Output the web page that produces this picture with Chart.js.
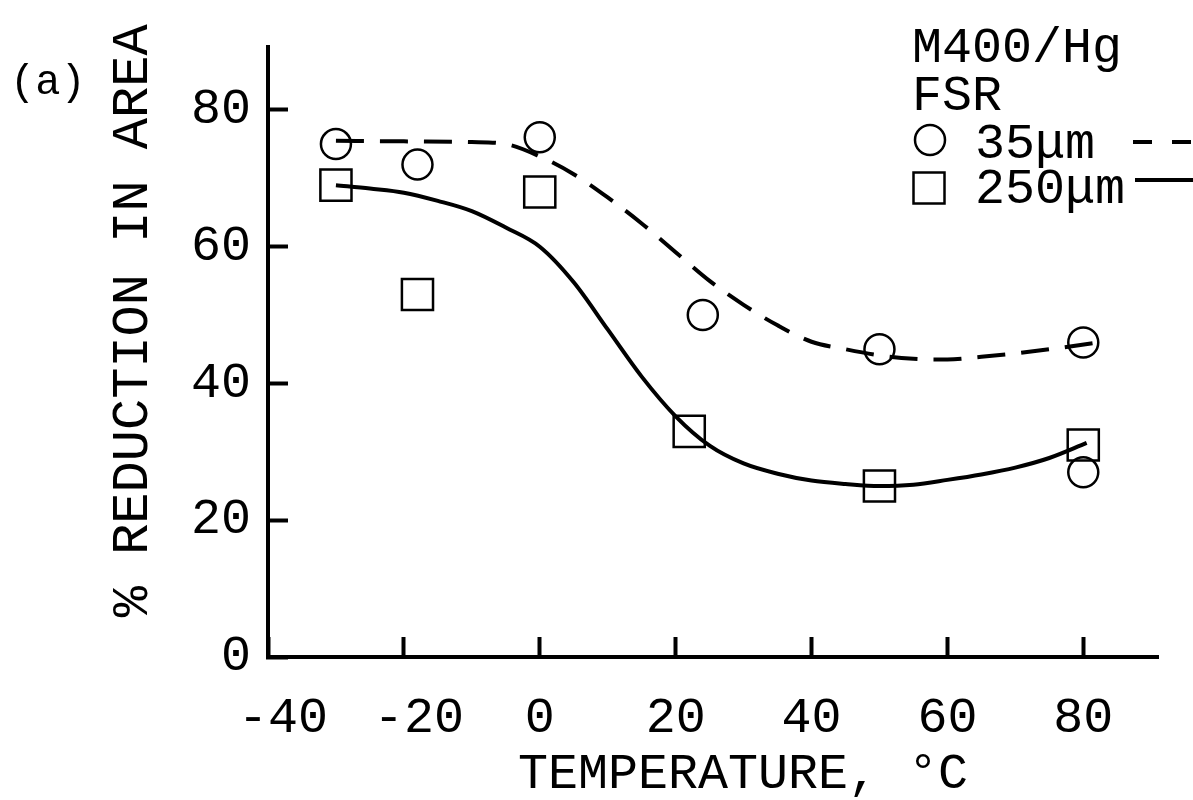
<!DOCTYPE html>
<html>
<head>
<meta charset="utf-8">
<script src="https://cdn.jsdelivr.net/npm/chart.js@4/dist/chart.umd.min.js"></script>
<style>
  html, body { margin: 0; padding: 0; background: #fff; }
  #myChart { display: block; }
</style>
</head>
<body>
<canvas id="myChart" width="1193" height="800"></canvas>
<script>
// measured points, % reduction in area vs temperature
const tempCircle = [-30, -18, 0, 24, 50, 80, 80];
const raCircle   = [75, 72, 76, 50, 45, 46, 27];
const tempSquare = [-30, -18, 0, 22, 50, 80];
const raSquare   = [69, 53, 68, 33, 25, 31];

// hand drawn fit curves
const fitTempDash = [-30, -20, -10, -5, 0, 5, 10, 15, 20, 25, 30, 35, 40, 45, 50, 55, 60, 65, 70, 75, 81.5];
const fitDash     = [75.5, 75.4, 75.3, 75.0, 73.2, 70.6, 67.2, 63.4, 59.2, 55.0, 51.5, 48.5, 46.1, 45.0, 44.1, 43.6, 43.5, 43.9, 44.4, 45.0, 45.9];
const fitTempSolid = [-30, -25, -20, -15, -10, -5, 0, 5, 10, 15, 20, 25, 30, 35, 40, 45, 50, 55, 60, 65, 70, 75, 80.5];
const fitSolid     = [69.0, 68.5, 67.9, 66.7, 65.2, 62.8, 60.0, 54.8, 47.9, 41.0, 35.2, 30.9, 28.3, 26.8, 25.8, 25.3, 25.0, 25.2, 25.9, 26.7, 27.7, 29.1, 31.3];

const xTicks = [-40, -20, 0, 20, 40, 60, 80];
const yTicks = [0, 20, 40, 60, 80];

const FONT = '"Liberation Mono", "DejaVu Sans Mono", monospace';

function pts(xs, ys) {
    return xs.map((x, i) => ({ x: x, y: ys[i] }));
}

// legend block and panel label, drawn as text on the canvas
const annotations = {
    id: 'annotations',
    afterDraw(chart) {
        const ctx = chart.ctx;
        ctx.save();
        ctx.fillStyle = '#000';
        ctx.strokeStyle = '#000';
        ctx.textBaseline = 'alphabetic';
        ctx.textAlign = 'left';

        ctx.font = '42px ' + FONT;
        ctx.fillText('(a)', 10, 94);

        ctx.font = '50px ' + FONT;
        ctx.fillText('M400/Hg', 912, 62);
        ctx.fillText('FSR', 912, 110);
        ctx.fillText('35\u03bcm', 975, 158);
        ctx.fillText('250\u03bcm', 975, 203);

        ctx.lineWidth = 2.5;
        ctx.beginPath();
        ctx.arc(930, 140, 15, 0, Math.PI * 2);
        ctx.stroke();
        ctx.strokeRect(913.5, 172.5, 31, 31);

        ctx.lineWidth = 4;
        ctx.setLineDash([19, 20]);
        ctx.beginPath();
        ctx.moveTo(1133, 142);
        ctx.lineTo(1193, 142);
        ctx.stroke();
        ctx.setLineDash([]);
        ctx.beginPath();
        ctx.moveTo(1135, 180);
        ctx.lineTo(1193, 180);
        ctx.stroke();
        ctx.restore();
    }
};

const ctx = document.getElementById('myChart').getContext('2d');
new Chart(ctx, {
    type: 'scatter',
    data: {
        datasets: [{
            label: '35um fit',
            data: pts(fitTempDash, fitDash),
            showLine: true,
            borderColor: '#000',
            borderWidth: 4,
            borderDash: [28, 16],
            pointRadius: 0,
            cubicInterpolationMode: 'monotone'
        }, {
            label: '250um fit',
            data: pts(fitTempSolid, fitSolid),
            showLine: true,
            borderColor: '#000',
            borderWidth: 4,
            pointRadius: 0,
            cubicInterpolationMode: 'monotone'
        }, {
            label: '35um',
            data: pts(tempCircle, raCircle),
            pointStyle: 'circle',
            pointRadius: 15,
            pointHoverRadius: 15,
            pointBorderWidth: 2.5,
            pointBorderColor: '#000',
            pointBackgroundColor: 'rgba(0,0,0,0)'
        }, {
            label: '250um',
            data: pts(tempSquare, raSquare),
            pointStyle: 'rect',
            pointRadius: 22,
            pointHoverRadius: 22,
            pointBorderWidth: 2.5,
            pointBorderColor: '#000',
            pointBackgroundColor: 'rgba(0,0,0,0)'
        }]
    },
    options: {
        responsive: false,
        animation: false,
        devicePixelRatio: 1,
        layout: { padding: { top: 47, right: 35, bottom: 0, left: 0 } },
        plugins: {
            legend: { display: false },
            tooltip: { enabled: false }
        },
        scales: {
            x: {
                type: 'linear',
                position: 'bottom',
                min: -40,
                max: 91,
                afterFit: function (scale) {
                    scale.height = 143;
                    scale.paddingLeft = 0;
                    scale.paddingRight = 0;
                },
                afterBuildTicks: function (scale) { scale.ticks = xTicks.map(v => ({ value: v })); },
                ticks: {
                    color: '#000',
                    padding: 52,
                    maxRotation: 0,
                    font: { family: FONT, size: 50 },
                    // minus sign sits left of the tick in the original
                    callback: function (value) { return value < 0 ? ' ' + value : String(value); }
                },
                grid: { drawOnChartArea: false, tickLength: -20, tickWidth: 4, tickColor: '#000' },
                border: { display: true, color: '#000', width: 4 },
                title: {
                    display: true,
                    text: '  TEMPERATURE, \u00b0C',
                    color: '#000',
                    padding: { top: 0, bottom: 0 },
                    font: { family: FONT, size: 50, lineHeight: 1 }
                }
            },
            y: {
                type: 'linear',
                min: 0,
                max: 89.2,
                afterFit: function (scale) {
                    scale.width = 268;
                    scale.paddingTop = 0;
                    scale.paddingBottom = 0;
                },
                afterBuildTicks: function (scale) { scale.ticks = yTicks.map(v => ({ value: v })); },
                ticks: {
                    color: '#000',
                    padding: 37,
                    font: { family: FONT, size: 50 }
                },
                grid: { drawOnChartArea: false, tickLength: -20, tickWidth: 4, tickColor: '#000' },
                border: { display: true, color: '#000', width: 4 },
                title: {
                    display: true,
                    text: '  % REDUCTION IN AREA',
                    color: '#000',
                    padding: { top: 107, bottom: 0 },
                    font: { family: FONT, size: 52, lineHeight: 1 }
                }
            }
        }
    },
    plugins: [annotations]
});
</script>
</body>
</html>
